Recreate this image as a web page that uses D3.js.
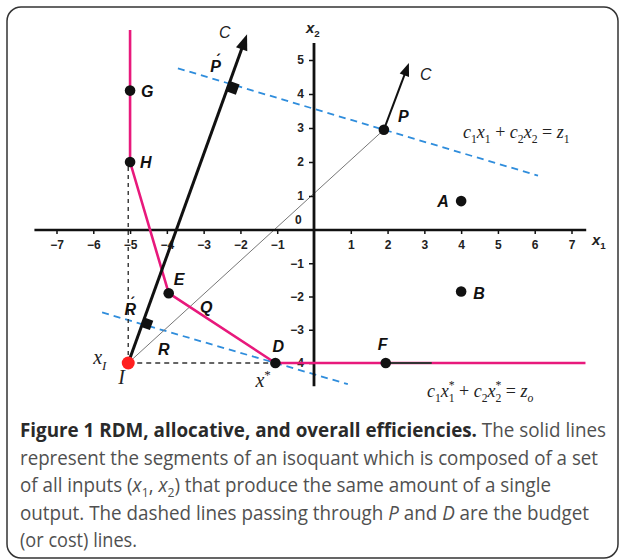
<!DOCTYPE html>
<html>
<head>
<meta charset="utf-8">
<script src="https://cdn.jsdelivr.net/npm/d3@7"></script>
<style>
  body { margin: 0; background: #fff; }
  svg { display: block; }
</style>
</head>
<body>
<script>
// axis ticks
var xTicks = [-7, -6, -5, -4, -3, -2, -1, 1, 2, 3, 4, 5, 6, 7];
var yTicks = [-4, -3, -2, -1, 1, 2, 3, 4, 5];
var xAxisExtent = [-7.6, 7.4];
var yAxisExtent = [-4.7, 5.5];

// labelled points (x1, x2)
var pointNames = ["G", "H", "E", "D", "F", "A", "B", "P"];
var pointX = [-5, -5, -3.95, -1.05, 1.95, 4, 4, 1.9];
var pointY = [4.1, 2, -1.9, -4, -4, 0.85, -1.85, 2.95];

// isoquant (solid pink)
var isoX = [-5, -5, -3.95, -1.05, 7.38];
var isoY = [5.88, 2, -1.9, -4, -4];

// inefficient unit I, cost direction ray and its arrow tip
var unitI = [-5.05, -4];
var rayTip = [-1.82, 5.76];
var arrowAtP = [2.58, 4.91];
var costC = [1, 3.1];
var budgetPRange = [-3.7, 6.09];
var budgetDRange = [-5.76, 0.92];

var W = 624, H = 560;
var svg = d3.select("body").append("svg")
    .attr("width", W)
    .attr("height", H)
    .style("font-family", "'Liberation Sans', Arial, sans-serif");

// card frame
svg.append("rect")
    .attr("x", 7).attr("y", 7)
    .attr("width", 611).attr("height", 551)
    .attr("rx", 14)
    .attr("fill", "#fff")
    .attr("stroke", "#333")
    .attr("stroke-width", 1.5);

var x = d3.scaleLinear().domain([-7, 0, 7]).range([56.5, 314, 571.5]);
var y = d3.scaleLinear().domain([-4, 0, 5]).range([363, 230, 60]);

function pt(i) { return { x: pointX[i], y: pointY[i] }; }
var P = pt(7), D = pt(3), Hp = pt(1);

// budget lines
var zP = costC[0] * P.x + costC[1] * P.y;
var zD = costC[0] * D.x + costC[1] * D.y;
function budgetY(z, xv) { return (z - costC[0] * xv) / costC[1]; }

[[zP, budgetPRange], [zD, budgetDRange]].forEach(function(b) {
  svg.append("line")
      .attr("x1", x(b[1][0])).attr("y1", y(budgetY(b[0], b[1][0])))
      .attr("x2", x(b[1][1])).attr("y2", y(budgetY(b[0], b[1][1])))
      .attr("stroke", "#2f8ddc")
      .attr("stroke-width", 1.8)
      .attr("stroke-dasharray", "7,5");
});

// dashed projections of I
svg.append("line")
    .attr("x1", x(unitI[0])).attr("y1", y(unitI[1]))
    .attr("x2", x(D.x)).attr("y2", y(D.y))
    .attr("stroke", "#333").attr("stroke-width", 1.6)
    .attr("stroke-dasharray", "5,4");
svg.append("line")
    .attr("x1", x(unitI[0])).attr("y1", y(unitI[1]))
    .attr("x2", x(unitI[0])).attr("y2", y(Hp.y))
    .attr("stroke", "#333").attr("stroke-width", 1.4)
    .attr("stroke-dasharray", "4,4");

// ray from I through P (thin gray)
svg.append("line")
    .attr("x1", x(unitI[0])).attr("y1", y(unitI[1]))
    .attr("x2", x(P.x)).attr("y2", y(P.y))
    .attr("stroke", "#777").attr("stroke-width", 1);

// axes
var xAxis = d3.axisBottom(x)
    .tickValues(xTicks)
    .tickSize(4)
    .tickPadding(6)
    .tickFormat(function(d) { return d < 0 ? "\u2212" + (-d) : d; });
var gx = svg.append("g")
    .attr("transform", "translate(0," + y(0) + ")")
    .call(xAxis);
gx.select(".domain").remove();
gx.selectAll("line").attr("stroke", "#111").attr("stroke-width", 1.5);
gx.selectAll("text")
    .attr("font-size", 12).attr("font-weight", "bold")
    .attr("font-family", "'Liberation Sans', Arial, sans-serif")
    .attr("fill", "#222");

var yAxis = d3.axisLeft(y)
    .tickValues(yTicks)
    .tickSize(5)
    .tickPadding(5)
    .tickFormat(function(d) { return d < 0 ? "\u2212" + (-d) : d; });
var gy = svg.append("g")
    .attr("transform", "translate(" + x(0) + ",0)")
    .call(yAxis);
gy.select(".domain").remove();
gy.selectAll("line").attr("stroke", "#111").attr("stroke-width", 1.5);
gy.selectAll("text")
    .attr("font-size", 12).attr("font-weight", "bold")
    .attr("font-family", "'Liberation Sans', Arial, sans-serif")
    .attr("fill", "#222");

svg.append("line")
    .attr("x1", x(xAxisExtent[0])).attr("x2", x(xAxisExtent[1]))
    .attr("y1", y(0)).attr("y2", y(0))
    .attr("stroke", "#111").attr("stroke-width", 2.4);
svg.append("line")
    .attr("x1", x(0)).attr("x2", x(0))
    .attr("y1", y(yAxisExtent[0])).attr("y2", y(yAxisExtent[1]))
    .attr("stroke", "#111").attr("stroke-width", 2.8);

svg.append("text")
    .attr("x", x(0) - 19).attr("y", y(0) - 6)
    .attr("font-size", 12).attr("font-weight", "bold").attr("fill", "#222")
    .text("0");

// rich text helper: parts with sub / sup / italic / bold
function rich(sel, parts, size) {
  var shift = 0;
  parts.forEach(function(p) {
    var target = p.sub ? size * 0.28 : (p.sup ? -size * 0.42 : 0);
    var ts = sel.append("tspan").text(p.t).attr("dy", target - shift);
    shift = target;
    if (p.sub || p.sup) ts.attr("font-size", size * 0.65);
    if (p.i) ts.attr("font-style", "italic");
    if (p.n) ts.attr("font-style", "normal");
    if (p.b) ts.attr("font-weight", "bold");
    if (p.dx) ts.attr("dx", p.dx);
    if (p.fill) ts.attr("fill", p.fill);
  });
  return sel;
}

rich(svg.append("text").attr("x", 592).attr("y", 245)
    .attr("font-size", 15).attr("font-weight", "bold").attr("fill", "#222"),
    [{ t: "x", i: true }, { t: "1", sub: true }], 15);
rich(svg.append("text").attr("x", 306).attr("y", 33)
    .attr("font-size", 15).attr("font-weight", "bold").attr("fill", "#222"),
    [{ t: "x", i: true }, { t: "2", sub: true }], 15);

// isoquant
var iso = isoX.map(function(v, i) { return [v, isoY[i]]; });
svg.append("path")
    .datum(iso)
    .attr("d", d3.line().x(function(d) { return x(d[0]); }).y(function(d) { return y(d[1]); }))
    .attr("fill", "none")
    .attr("stroke", "#e8197c")
    .attr("stroke-width", 2.6)
    .attr("stroke-linejoin", "round");

// short dark piece on the isoquant right of F
svg.append("line")
    .attr("x1", x(pointX[4])).attr("x2", x(3.2))
    .attr("y1", y(-4)).attr("y2", y(-4))
    .attr("stroke", "#333").attr("stroke-width", 2);

// arrow helper
function arrow(from, to, width, headLen, headHalf) {
  var x0 = x(from[0]), y0 = y(from[1]), x1 = x(to[0]), y1 = y(to[1]);
  var len = Math.hypot(x1 - x0, y1 - y0);
  var ux = (x1 - x0) / len, uy = (y1 - y0) / len;
  var bx = x1 - ux * headLen, by = y1 - uy * headLen;
  svg.append("line")
      .attr("x1", x0).attr("y1", y0)
      .attr("x2", bx + ux * 2).attr("y2", by + uy * 2)
      .attr("stroke", "#111").attr("stroke-width", width);
  svg.append("polygon")
      .attr("points", [[x1, y1], [bx - uy * headHalf, by + ux * headHalf], [bx + uy * headHalf, by - ux * headHalf]]
        .map(function(p) { return p.join(","); }).join(" "))
      .attr("fill", "#111");
  return { ux: ux, uy: uy };
}

var dir = arrow(unitI, rayTip, 3, 16, 6);
arrow([P.x, P.y], arrowAtP, 2, 13, 5);

// right-angle squares where the ray meets each budget line
var dRay = [rayTip[0] - unitI[0], rayTip[1] - unitI[1]];
function rayHit(z) {
  var t = (z - costC[0] * unitI[0] - costC[1] * unitI[1]) / (costC[0] * dRay[0] + costC[1] * dRay[1]);
  return [unitI[0] + t * dRay[0], unitI[1] + t * dRay[1]];
}
var hitP = rayHit(zP), hitD = rayHit(zD);
var ang = Math.atan2(dir.uy, dir.ux) * 180 / Math.PI;
[[hitP, 11, -0.25], [hitD, 10, 0.2]].forEach(function(h) {
  var s = h[1];
  var cx = x(h[0][0]) - dir.uy * s * 0.4 + dir.ux * s * h[2];
  var cy = y(h[0][1]) + dir.ux * s * 0.4 + dir.uy * s * h[2];
  svg.append("rect")
      .attr("x", -s / 2).attr("y", -s / 2)
      .attr("width", s).attr("height", s)
      .attr("fill", "#111")
      .attr("transform", "translate(" + cx + "," + cy + ") rotate(" + ang + ")");
});

// points
svg.selectAll("circle.pt")
    .data(pointNames)
    .enter().append("circle")
    .attr("class", "pt")
    .attr("cx", function(d, i) { return x(pointX[i]); })
    .attr("cy", function(d, i) { return y(pointY[i]); })
    .attr("r", 5.3)
    .attr("fill", "#111");

svg.append("circle")
    .attr("cx", x(unitI[0])).attr("cy", y(unitI[1]))
    .attr("r", 6.5)
    .attr("fill", "#ff1f1f");

// point labels
var labelOffset = {
  G: [11, 6], H: [10, 6], E: [5, -8], D: [-3, -11],
  F: [-8, -13], A: [-24, 6], B: [12, 7], P: [14, -8]
};
function pointLabel(px, py, txt) {
  return svg.append("text")
      .attr("x", px).attr("y", py)
      .attr("font-size", 16)
      .attr("font-weight", "bold")
      .attr("font-style", "italic")
      .attr("fill", "#111")
      .text(txt);
}
pointNames.forEach(function(n, i) {
  pointLabel(x(pointX[i]) + labelOffset[n][0], y(pointY[i]) + labelOffset[n][1], n);
});

// Q: ray I-P meets segment E-D; R: ray I-P meets budget line through D
function segHit(a, b, c, d) {
  var den = (a[0] - b[0]) * (c[1] - d[1]) - (a[1] - b[1]) * (c[0] - d[0]);
  var t = ((a[0] - c[0]) * (c[1] - d[1]) - (a[1] - c[1]) * (c[0] - d[0])) / den;
  return [a[0] + t * (b[0] - a[0]), a[1] + t * (b[1] - a[1])];
}
var pP = [P.x, P.y];
var Q = segHit(unitI, pP, [pointX[2], pointY[2]], [D.x, D.y]);
var R = segHit(unitI, pP, [-5, budgetY(zD, -5)], [0, budgetY(zD, 0)]);
pointLabel(x(Q[0]) + 10, y(Q[1]) + 6, "Q");
pointLabel(x(R[0]) - 6, y(R[1]) + 24, "R");

// primed labels: letter plus a small accent above its right shoulder
function primeLabel(px, py, letter) {
  pointLabel(px, py, letter);
  svg.append("text")
      .attr("x", px + 6).attr("y", py - 7)
      .attr("font-size", 14)
      .attr("font-weight", "bold")
      .attr("fill", "#111")
      .text("\u00B4");
}
primeLabel(x(hitP[0]) - 19, y(hitP[1]) - 12, "P");
primeLabel(x(hitD[0]) - 18, y(hitD[1]) - 9, "R");

// C labels at the arrow tips
svg.append("text")
    .attr("x", x(rayTip[0]) - 28).attr("y", y(rayTip[1]) + 4)
    .attr("font-size", 16).attr("font-style", "italic").attr("fill", "#222")
    .text("C");
svg.append("text")
    .attr("x", x(arrowAtP[0]) + 11).attr("y", y(arrowAtP[1]) + 17)
    .attr("font-size", 16).attr("font-style", "italic").attr("fill", "#222")
    .text("C");

// serif math labels
var serif = "'Liberation Serif', 'Times New Roman', serif";
function mathText(px, py, size, parts) {
  return rich(svg.append("text")
      .attr("x", px).attr("y", py)
      .attr("font-family", serif)
      .attr("font-size", size)
      .attr("font-style", "italic")
      .attr("fill", "#222"), parts, size);
}
mathText(x(unitI[0]) - 35, y(unitI[1]) + 1, 20, [{ t: "x" }, { t: "I", sub: true }]);
mathText(x(unitI[0]) - 10, y(unitI[1]) + 21, 20, [{ t: "I" }]);
mathText(x(D.x) - 20, y(D.y) + 24, 20, [{ t: "x" }, { t: "*", sup: true, n: true }]);

mathText(463, 138, 18, [
  { t: "c" }, { t: "1", sub: true, n: true }, { t: "x" }, { t: "1", sub: true, n: true },
  { t: " + ", n: true }, { t: "c" }, { t: "2", sub: true, n: true }, { t: "x" }, { t: "2", sub: true, n: true },
  { t: " = ", n: true }, { t: "z" }, { t: "1", sub: true, n: true }
]);
mathText(427, 397, 18, [
  { t: "c" }, { t: "1", sub: true, n: true }, { t: "x" }, { t: "1", sub: true, n: true },
  { t: "*", sup: true, n: true, dx: -6 },
  { t: " + ", n: true }, { t: "c" }, { t: "2", sub: true, n: true }, { t: "x" }, { t: "2", sub: true, n: true },
  { t: "*", sup: true, n: true, dx: -6 },
  { t: " = ", n: true }, { t: "z" }, { t: "o", sub: true }
]);

// caption
var captionLines = [
  [{ t: "Figure 1 RDM, allocative, and overall efficiencies.", b: true, fill: "#2a2a2a" }, { t: " The solid lines" }],
  [{ t: "represent the segments of an isoquant which is composed of a set" }],
  [{ t: "of all inputs (" }, { t: "x", i: true }, { t: "1", sub: true }, { t: ", " }, { t: "x", i: true }, { t: "2", sub: true },
   { t: ") that produce the same amount of a single" }],
  [{ t: "output. The dashed lines passing through " }, { t: "P", i: true }, { t: " and " }, { t: "D", i: true },
   { t: " are the budget" }],
  [{ t: "(or cost) lines." }]
];
var captionWidths = [586, 578, 531, 569, 117];
var captionTop = 437, captionStep = 27.5;
captionLines.forEach(function(parts, i) {
  rich(svg.append("text")
      .attr("x", 20)
      .attr("y", captionTop + i * captionStep)
      .attr("font-family", "'Open Sans', 'Noto Sans', sans-serif")
      .attr("font-size", 19.5)
      .attr("fill", "#505050")
      .attr("textLength", captionWidths[i])
      .attr("lengthAdjust", "spacingAndGlyphs"), parts, 19.5);
});
</script>
</body>
</html>
